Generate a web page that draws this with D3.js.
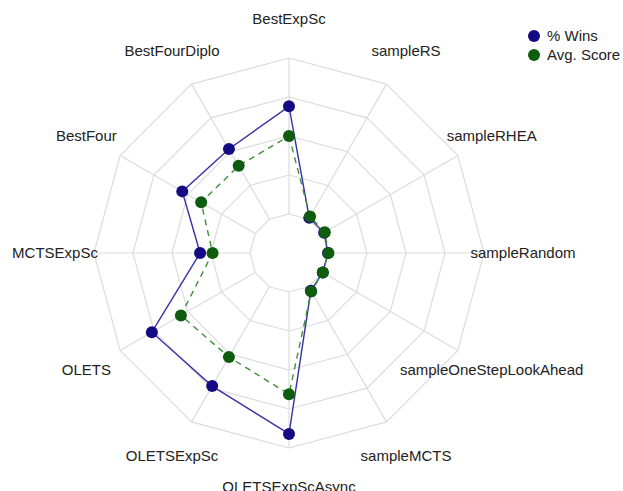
<!DOCTYPE html>
<html>
<head>
<meta charset="utf-8">
<script src="https://cdn.jsdelivr.net/npm/d3@7"></script>
<style>
  body { margin: 0; background: #fff; }
  text { font-family: "Liberation Sans", Arial, sans-serif; fill: #222; }
</style>
</head>
<body>
<div id="vis"></div>
<script>
// axes, clockwise from the top
const axes = ['BestExpSc', 'sampleRS', 'sampleRHEA', 'sampleRandom', 'sampleOneStepLookAhead',
    'sampleMCTS', 'OLETSExpScAsync', 'OLETSExpSc', 'OLETS', 'MCTSExpSc', 'BestFour', 'BestFourDiplo']

const wins = [69, 1, 1, 0, 0, 3, 91, 73.5, 76.5, 32, 54, 52]
const score = [50, 2, 1.5, 0.3, 0, 3.5, 65.5, 52, 55, 24, 40, 39.5]

const seriesNames = ['% Wins', 'Avg. Score']
const levels = [0, 25, 50, 75, 100]

////////////////////////////////////////
////////////// Setup ///////////////////
////////////////////////////////////////

const width = 623, height = 491
const cx = 289, cy = 253

const svg = d3.select('#vis').append('svg')
    .attr('width', width)
    .attr('height', height)

const r = d3.scaleLinear().domain([0, 100]).range([39, 195])
const angle = d3.scaleLinear().domain([0, axes.length]).range([0, 2 * Math.PI])

const pt = (i, v) => [cx + r(v) * Math.sin(angle(i)), cy - r(v) * Math.cos(angle(i))]

const g = svg.append('g')

// rings
g.selectAll('.ring')
    .data(levels)
    .join('polygon')
    .attr('points', lv => axes.map((a, i) => pt(i, lv).join(',')).join(' '))
    .attr('fill', 'none')
    .attr('stroke', '#dcdcdc')
    .attr('stroke-width', 1.2)

// spokes
g.selectAll('.spoke')
    .data(axes)
    .join('line')
    .attr('x1', (d, i) => pt(i, 0)[0])
    .attr('y1', (d, i) => pt(i, 0)[1])
    .attr('x2', (d, i) => pt(i, 100)[0])
    .attr('y2', (d, i) => pt(i, 100)[1])
    .attr('stroke', '#dcdcdc')
    .attr('stroke-width', 1.2)

// labels
g.selectAll('.lab')
    .data(axes)
    .join('text')
    .attr('x', (d, i) => cx + 234 * Math.sin(angle(i)))
    .attr('y', (d, i) => cy - 234 * Math.cos(angle(i)))
    .attr('dy', '0.35em')
    .attr('text-anchor', 'middle')
    .style('font-size', '15px')
    .text(d => d)

////////////////////////////////////////
////////////// Series //////////////////
////////////////////////////////////////

const series = [
    { name: seriesNames[0], values: wins, line: '#3a30a6', dot: '#140b84', dash: null },
    { name: seriesNames[1], values: score, line: '#3f8f3a', dot: '#0f5c0f', dash: '6,5' }
]

const line = d3.lineRadial()
    .angle((d, i) => angle(i))
    .radius(d => r(d))
    .curve(d3.curveLinearClosed)

series.forEach(s => {
    g.append('path')
        .datum(s.values)
        .attr('transform', `translate(${cx},${cy})`)
        .attr('d', line)
        .attr('fill', 'none')
        .attr('stroke', s.line)
        .attr('stroke-width', 1.4)
        .attr('stroke-dasharray', s.dash)
})

series.forEach(s => {
    g.selectAll(null)
        .data(s.values)
        .join('circle')
        .attr('cx', (d, i) => pt(i, d)[0])
        .attr('cy', (d, i) => pt(i, d)[1])
        .attr('r', 6)
        .attr('fill', s.dot)
})

// legend
const legend = svg.append('g')
    .selectAll('g')
    .data(series)
    .join('g')
    .attr('transform', (d, i) => `translate(534, ${36 + i * 19})`)

legend.append('circle').attr('r', 6).attr('fill', d => d.dot)
legend.append('text')
    .attr('x', 13)
    .attr('dy', '0.35em')
    .style('font-size', '15px')
    .text(d => d.name)
</script>
</body>
</html>
